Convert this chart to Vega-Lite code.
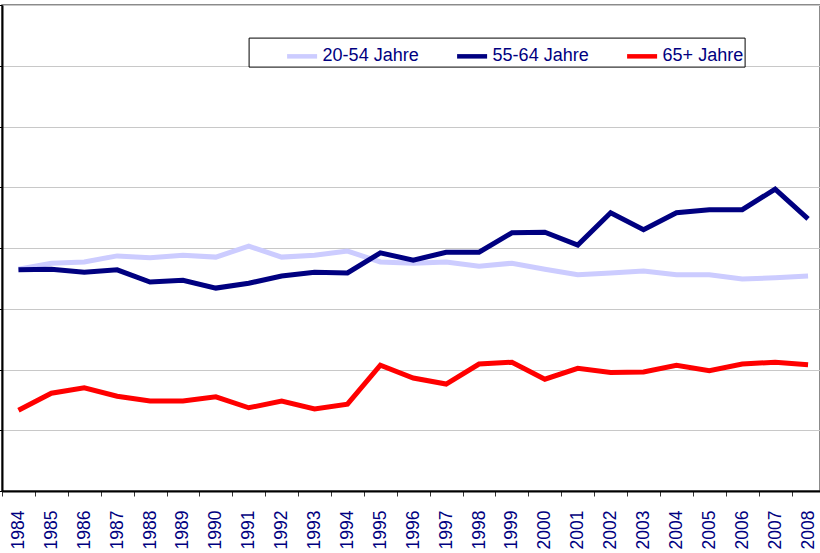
{
  "$schema": "https://vega.github.io/schema/vega-lite/v6.json",
  "width": 818,
  "height": 486,
  "autosize": {"type": "none"},
  "padding": {"left": 2, "top": 5, "right": 0, "bottom": 62},
  "background": "white",
  "config": {
    "font": "Liberation Sans",
    "view": {"stroke": "#666666", "strokeWidth": 1.5}
  },
  "data": {
    "values": [
      {"year": "1984", "group": "20-54 Jahre", "value": 36.5},
      {"year": "1985", "group": "20-54 Jahre", "value": 37.5},
      {"year": "1986", "group": "20-54 Jahre", "value": 37.7},
      {"year": "1987", "group": "20-54 Jahre", "value": 38.7},
      {"year": "1988", "group": "20-54 Jahre", "value": 38.4},
      {"year": "1989", "group": "20-54 Jahre", "value": 38.8},
      {"year": "1990", "group": "20-54 Jahre", "value": 38.5},
      {"year": "1991", "group": "20-54 Jahre", "value": 40.3},
      {"year": "1992", "group": "20-54 Jahre", "value": 38.5},
      {"year": "1993", "group": "20-54 Jahre", "value": 38.8},
      {"year": "1994", "group": "20-54 Jahre", "value": 39.5},
      {"year": "1995", "group": "20-54 Jahre", "value": 37.7},
      {"year": "1996", "group": "20-54 Jahre", "value": 37.5},
      {"year": "1997", "group": "20-54 Jahre", "value": 37.7},
      {"year": "1998", "group": "20-54 Jahre", "value": 37.0},
      {"year": "1999", "group": "20-54 Jahre", "value": 37.5},
      {"year": "2000", "group": "20-54 Jahre", "value": 36.5},
      {"year": "2001", "group": "20-54 Jahre", "value": 35.6},
      {"year": "2002", "group": "20-54 Jahre", "value": 35.9},
      {"year": "2003", "group": "20-54 Jahre", "value": 36.2},
      {"year": "2004", "group": "20-54 Jahre", "value": 35.6},
      {"year": "2005", "group": "20-54 Jahre", "value": 35.6},
      {"year": "2006", "group": "20-54 Jahre", "value": 34.9},
      {"year": "2007", "group": "20-54 Jahre", "value": 35.1},
      {"year": "2008", "group": "20-54 Jahre", "value": 35.4},
      {"year": "1984", "group": "55-64 Jahre", "value": 36.4},
      {"year": "1985", "group": "55-64 Jahre", "value": 36.5},
      {"year": "1986", "group": "55-64 Jahre", "value": 36.0},
      {"year": "1987", "group": "55-64 Jahre", "value": 36.4},
      {"year": "1988", "group": "55-64 Jahre", "value": 34.4},
      {"year": "1989", "group": "55-64 Jahre", "value": 34.7},
      {"year": "1990", "group": "55-64 Jahre", "value": 33.4},
      {"year": "1991", "group": "55-64 Jahre", "value": 34.2},
      {"year": "1992", "group": "55-64 Jahre", "value": 35.4},
      {"year": "1993", "group": "55-64 Jahre", "value": 36.0},
      {"year": "1994", "group": "55-64 Jahre", "value": 35.9},
      {"year": "1995", "group": "55-64 Jahre", "value": 39.2},
      {"year": "1996", "group": "55-64 Jahre", "value": 38.0},
      {"year": "1997", "group": "55-64 Jahre", "value": 39.3},
      {"year": "1998", "group": "55-64 Jahre", "value": 39.3},
      {"year": "1999", "group": "55-64 Jahre", "value": 42.5},
      {"year": "2000", "group": "55-64 Jahre", "value": 42.6},
      {"year": "2001", "group": "55-64 Jahre", "value": 40.5},
      {"year": "2002", "group": "55-64 Jahre", "value": 45.8},
      {"year": "2003", "group": "55-64 Jahre", "value": 43.0},
      {"year": "2004", "group": "55-64 Jahre", "value": 45.8},
      {"year": "2005", "group": "55-64 Jahre", "value": 46.3},
      {"year": "2006", "group": "55-64 Jahre", "value": 46.3},
      {"year": "2007", "group": "55-64 Jahre", "value": 49.7},
      {"year": "2008", "group": "55-64 Jahre", "value": 44.8},
      {"year": "1984", "group": "65+ Jahre", "value": 13.3},
      {"year": "1985", "group": "65+ Jahre", "value": 16.1},
      {"year": "1986", "group": "65+ Jahre", "value": 17.0},
      {"year": "1987", "group": "65+ Jahre", "value": 15.6},
      {"year": "1988", "group": "65+ Jahre", "value": 14.8},
      {"year": "1989", "group": "65+ Jahre", "value": 14.8},
      {"year": "1990", "group": "65+ Jahre", "value": 15.5},
      {"year": "1991", "group": "65+ Jahre", "value": 13.7},
      {"year": "1992", "group": "65+ Jahre", "value": 14.8},
      {"year": "1993", "group": "65+ Jahre", "value": 13.5},
      {"year": "1994", "group": "65+ Jahre", "value": 14.3},
      {"year": "1995", "group": "65+ Jahre", "value": 20.7},
      {"year": "1996", "group": "65+ Jahre", "value": 18.6},
      {"year": "1997", "group": "65+ Jahre", "value": 17.6},
      {"year": "1998", "group": "65+ Jahre", "value": 20.9},
      {"year": "1999", "group": "65+ Jahre", "value": 21.2},
      {"year": "2000", "group": "65+ Jahre", "value": 18.4},
      {"year": "2001", "group": "65+ Jahre", "value": 20.2},
      {"year": "2002", "group": "65+ Jahre", "value": 19.5},
      {"year": "2003", "group": "65+ Jahre", "value": 19.6},
      {"year": "2004", "group": "65+ Jahre", "value": 20.7},
      {"year": "2005", "group": "65+ Jahre", "value": 19.8},
      {"year": "2006", "group": "65+ Jahre", "value": 20.9},
      {"year": "2007", "group": "65+ Jahre", "value": 21.2},
      {"year": "2008", "group": "65+ Jahre", "value": 20.8}
    ]
  },
  "mark": {"type": "line", "strokeWidth": 5, "clip": false},
  "encoding": {
    "x": {
      "field": "year",
      "type": "ordinal",
      "bandPosition": 0.5,
      "scale": {"type": "band", "range": [0, 822.5], "paddingInner": 0, "paddingOuter": 0},
      "axis": {
        "title": null,
        "grid": false,
        "tickBand": "extent",
        "labelAngle": 270,
        "labelAlign": "right",
        "labelBaseline": "middle",
        "labelFontSize": 17.5,
        "labelFont": "Liberation Sans",
        "labelColor": "#000080",
        "labelPadding": 14,
        "tickSize": 5,
        "tickColor": "#333333",
        "domainColor": "#000000",
        "domainWidth": 2
      }
    },
    "y": {
      "field": "value",
      "type": "quantitative",
      "scale": {"domain": [0, 80], "nice": false, "zero": true},
      "axis": {
        "title": null,
        "labels": false,
        "values": [0, 10, 20, 30, 40, 50, 60, 70, 80],
        "grid": true,
        "gridColor": "#c8c8c8",
        "gridWidth": 1.2,
        "tickSize": 4,
        "tickColor": "#000000",
        "domainColor": "#000000",
        "domainWidth": 2
      }
    },
    "color": {
      "field": "group",
      "type": "nominal",
      "scale": {
        "domain": ["20-54 Jahre", "55-64 Jahre", "65+ Jahre"],
        "range": ["#ccccff", "#000080", "#ff0000"]
      },
      "legend": {
        "orient": "none",
        "legendX": 246.6,
        "legendY": 32.6,
        "direction": "horizontal",
        "title": null,
        "symbolType": "stroke",
        "symbolSize": 900,
        "symbolStrokeWidth": 4.5,
        "labelFontSize": 18,
        "labelFont": "Liberation Sans",
        "labelColor": "#000080",
        "labelOffset": 3,
        "columnPadding": 0,
        "symbolOffset": 35,
        "gridAlign": "all",
        "padding": 1,
        "strokeColor": "#000000",
        "fillColor": "#ffffff"
      }
    }
  }
}
